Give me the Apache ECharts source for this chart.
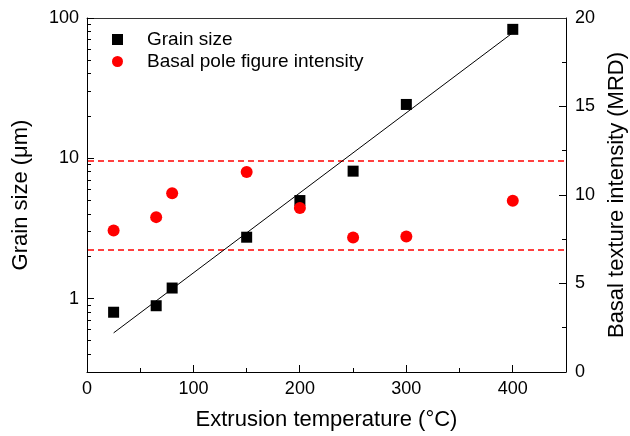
<!DOCTYPE html>
<html>
<head>
<meta charset="utf-8">
<script src="https://cdn.jsdelivr.net/npm/echarts@6/dist/echarts.min.js"></script>
<style>
  html, body { margin: 0; padding: 0; background: #fff; }
  #chart { width: 630px; height: 436px; }
</style>
</head>
<body>
<div id="chart"></div>
<script>
// Extrusion temperatures (°C)
const temperatures = [25, 65, 80, 150, 200, 250, 300, 400];
// Grain size (µm), left log axis
const grainSize = [0.8, 0.89, 1.19, 2.74, 5.0, 8.1, 24.2, 83];
// Basal pole figure intensity (MRD), right axis
const basalIntensity = [8.0, 8.75, 10.1, 11.3, 9.26, 7.6, 7.66, 9.67];
// Exponential fit of grain size, end points
const fitTemps = [25, 400];
const fitGrain = [0.57, 78.5];
// Bounds of the texture intensity band (MRD)
const intensityBand = [11.9, 6.9];

// Axis ranges
const xRange = [0, 450];
const grainRange = [0.3, 100];
const intensityRange = [0, 20];

// Axis tick values
const xMajorTicks = [0, 100, 200, 300, 400];
const xMinorTicks = [50, 150, 250, 350];
const yMajorTicks = [1, 10, 100];
const yMinorTicks = [0.4, 0.5, 0.6, 0.7, 0.8, 0.9, 2, 3, 4, 5, 6, 7, 8, 9, 20, 30, 40, 50, 60, 70, 80, 90];
const rMajorTicks = [5, 10, 15];
const rMinorTicks = [2.5, 7.5, 12.5, 17.5];

const FONT = '"Liberation Sans", Arial, sans-serif';

const zip = (xs, ys) => xs.map((x, i) => [x, ys[i]]);
const crisp = (v) => Math.round(v - 0.5) + 0.5;

const chart = echarts.init(document.getElementById('chart'), null, { renderer: 'canvas' });

// Inward tick marks drawn through the axis scales.
// side: 'bottom' | 'left' | 'right'
function tickSeries(values, side, len, yAxisIndex) {
  return {
    type: 'custom',
    xAxisIndex: 0,
    yAxisIndex: yAxisIndex,
    silent: true,
    clip: false,
    z: 5,
    data: values.map(v => [v]),
    encode: side === 'bottom' ? { x: 0 } : { y: 0 },
    renderItem: function (params, api) {
      const v = api.value(0);
      let shape;
      if (side === 'bottom') {
        const p = api.coord([v, yAxisIndex === 2 ? intensityRange[0] : grainRange[0]]);
        const x = crisp(p[0]);
        shape = { x1: x, y1: p[1], x2: x, y2: p[1] - len };
      } else {
        const p = api.coord([side === 'left' ? xRange[0] : xRange[1], v]);
        const y = crisp(p[1]);
        const dir = side === 'left' ? 1 : -1;
        shape = { x1: p[0], y1: y, x2: p[0] + dir * len, y2: y };
      }
      return { type: 'line', shape: shape, style: { stroke: '#000', lineWidth: 1 } };
    }
  };
}

// Horizontal dashed band limits on the intensity scale
const bandSeries = {
  type: 'custom',
  xAxisIndex: 0,
  yAxisIndex: 2,
  silent: true,
  clip: false,
  z: 1,
  data: intensityBand.map(v => [v]),
  encode: { y: 0 },
  renderItem: function (params, api) {
    const v = api.value(0);
    const a = api.coord([xRange[0], v]);
    const b = api.coord([xRange[1], v]);
    const y = Math.round(a[1]);
    return {
      type: 'line',
      shape: { x1: a[0] + 1, y1: y, x2: b[0] - 1, y2: y },
      style: { stroke: '#ff0000', lineWidth: 1.6, lineDash: [6, 4] }
    };
  }
};

const option = {
  animation: false,
  backgroundColor: '#fff',
  textStyle: { fontFamily: FONT },
  grid: {
    left: 87, right: 64, top: 18, bottom: 64,
    outerBoundsMode: 'none',
    containLabel: false
  },
  legend: {
    orient: 'vertical',
    left: 112, top: 30, padding: 0, itemGap: 3,
    itemWidth: 11, itemHeight: 11,
    data: ['Grain size', 'Basal pole figure intensity'],
    textStyle: { fontSize: 19, color: '#000', fontFamily: FONT, padding: [0, 0, 0, 19] }
  },
  xAxis: [
    {
      type: 'value', min: xRange[0], max: xRange[1], position: 'bottom',
      name: 'Extrusion temperature (°C)', nameLocation: 'middle', nameGap: 37,
      nameTextStyle: { fontSize: 22, color: '#000', fontFamily: FONT },
      axisLine: { show: true, onZero: false, lineStyle: { color: '#000', width: 1 } },
      axisTick: { show: false },
      axisLabel: { show: true, fontSize: 18, color: '#000', margin: 8, customValues: xMajorTicks },
      splitLine: { show: false }
    },
    {
      // top frame edge
      type: 'value', min: xRange[0], max: xRange[1], position: 'top',
      axisLine: { show: true, onZero: false, lineStyle: { color: '#333', width: 1 } },
      axisTick: { show: false },
      axisLabel: { show: false },
      splitLine: { show: false }
    }
  ],
  yAxis: [
    {
      type: 'log', logBase: 10, min: grainRange[0], max: grainRange[1], position: 'left',
      name: 'Grain size (\u03bcm)', nameLocation: 'middle', nameGap: 55, nameRotate: 90,
      nameTextStyle: { fontSize: 22, color: '#000', fontFamily: FONT },
      axisLine: { show: true, onZero: false, lineStyle: { color: '#000', width: 1 } },
      axisTick: { show: false },
      axisLabel: { show: true, fontSize: 18, color: '#000', margin: 8, customValues: yMajorTicks },
      splitLine: { show: false }
    },
    {
      type: 'log', logBase: 10, min: grainRange[0], max: grainRange[1], position: 'left',
      show: false
    },
    {
      type: 'value', min: intensityRange[0], max: intensityRange[1], interval: 5, position: 'right',
      name: 'Basal texture intensity (MRD)', nameLocation: 'middle', nameGap: 40, nameRotate: 90,
      nameTextStyle: { fontSize: 22, color: '#000', fontFamily: FONT },
      axisLine: { show: true, onZero: false, lineStyle: { color: '#000', width: 1 } },
      axisTick: { show: false },
      minorTick: { show: false },
      axisLabel: { show: true, fontSize: 18, color: '#000', margin: 9 },
      splitLine: { show: false }
    }
  ],
  series: [
    bandSeries,
    tickSeries(xMajorTicks, 'bottom', 7, 0),
    tickSeries(xMinorTicks, 'bottom', 4, 0),
    tickSeries(yMajorTicks, 'left', 7, 0),
    tickSeries(yMinorTicks, 'left', 4, 0),
    tickSeries(rMajorTicks, 'right', 7, 2),
    tickSeries(rMinorTicks, 'right', 4, 2),
    {
      name: 'fit',
      type: 'line',
      xAxisIndex: 0, yAxisIndex: 0,
      data: zip(fitTemps, fitGrain),
      symbol: 'none',
      lineStyle: { color: '#000', width: 1 },
      silent: true
    },
    {
      name: 'Grain size',
      type: 'scatter',
      xAxisIndex: 0, yAxisIndex: 0,
      symbol: 'rect', symbolSize: 11,
      itemStyle: { color: '#000', opacity: 1 },
      data: zip(temperatures, grainSize)
    },
    {
      name: 'Basal pole figure intensity',
      type: 'scatter',
      xAxisIndex: 0, yAxisIndex: 2,
      symbol: 'circle', symbolSize: 12,
      itemStyle: { color: '#ff0000', opacity: 1 },
      data: zip(temperatures, basalIntensity)
    }
  ]
};

chart.setOption(option);
</script>
</body>
</html>
